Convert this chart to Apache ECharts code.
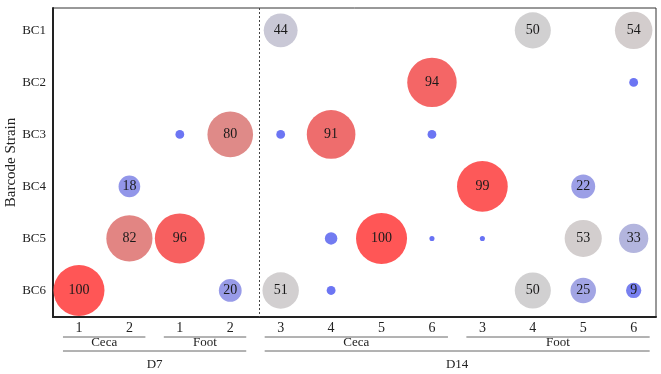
<!DOCTYPE html>
<html>
<head>
<meta charset="utf-8">
<script src="https://cdn.jsdelivr.net/npm/echarts@6/dist/echarts.min.js"></script>
<style>
  html, body { margin: 0; padding: 0; background: #fff; }
  #chart { width: 661px; height: 374px; }
</style>
</head>
<body>
<div id="chart"></div>
<script>
// x 轴：每个样本的编号
var xLabels = ['1', '2', '1', '2', '3', '4', '5', '6', '3', '4', '5', '6']
var strains = ['BC1', 'BC2', 'BC3', 'BC4', 'BC5', 'BC6']

// 每个菌株在12个样本中的占比(%)，null 表示没有
var bc1 = [null, null, null, null, 44, null, null, null, null, 50, null, 54]
var bc2 = [null, null, null, null, null, null, null, 94, null, null, null, 3]
var bc3 = [null, null, 3, 80, 3, 91, null, 3, null, null, null, null]
var bc4 = [null, 18, null, null, null, null, null, null, 99, null, 22, null]
var bc5 = [null, 82, 96, null, null, 6, 100, 1, 1, null, 53, 33]
var bc6 = [100, null, null, 20, 51, 3, null, null, null, 50, 25, 9]
var rows = [bc1, bc2, bc3, bc4, bc5, bc6]

// 下方分组
var tissueGroups = [
    { name: 'Ceca', from: 0, to: 1 },
    { name: 'Foot', from: 2, to: 3 },
    { name: 'Ceca', from: 4, to: 7 },
    { name: 'Foot', from: 8, to: 11 }
]
var dayGroups = [
    { name: 'D7', from: 0, to: 3 },
    { name: 'D14', from: 4, to: 11 }
]
var dayDivider = 3.57

var serif = '"Liberation Serif", "Times New Roman", serif'

function buildData() {
    var list = []
    for (var r = 0; r < rows.length; r++) {
        for (var c = 0; c < rows[r].length; c++) {
            if (rows[r][c] != null) list.push([c, r + 1, rows[r][c]])
        }
    }
    return list
}

var chart = echarts.init(document.getElementById('chart'))

var option = {
    animation: false,
    grid: {
        left: 53, right: 5, top: 8, bottom: 57,
        outerBoundsMode: 'none',
        containLabel: false,
        show: true, borderColor: '#333', borderWidth: 1
    },
    xAxis: {
        type: 'value',
        min: -0.515,
        max: 11.443,
        splitLine: { show: false },
        axisTick: { show: false },
        axisLine: { onZero: false, lineStyle: { color: '#222', width: 2 } },
        axisLabel: {
            customValues: xLabels.map(function (d, i) { return i }),
            formatter: function (v) { return xLabels[v] },
            color: '#222', fontFamily: serif, fontSize: 14, margin: 4
        }
    },
    yAxis: {
        type: 'value',
        inverse: true,
        min: 0.57,
        max: 6.51,
        name: 'Barcode Strain',
        nameLocation: 'middle',
        nameGap: 34,
        nameMoveOverlap: false,
        nameTextStyle: { color: '#222', fontFamily: serif, fontSize: 15 },
        splitLine: { show: false },
        axisTick: { show: false },
        axisLine: { onZero: false, lineStyle: { color: '#222', width: 2 } },
        axisLabel: {
            customValues: [1, 2, 3, 4, 5, 6],
            formatter: function (v) { return strains[v - 1] },
            color: '#222', fontFamily: serif, fontSize: 13, margin: 7
        }
    },
    visualMap: {
        show: false,
        dimension: 2,
        min: 0,
        max: 100,
        inRange: {
            color: ['#6670f5', '#7a82ee', '#989be8', '#acafe0', '#c3c3d9', '#d1d0d1',
                    '#d6c8c8', '#dcaaa8', '#df8a88', '#ec7070', '#ff5656']
        }
    },
    series: [{
        type: 'scatter',
        data: buildData(),
        symbolSize: function (v) { return 5.1 * Math.sqrt(v[2]) },
        itemStyle: { opacity: 1 },
        label: {
            show: true,
            position: 'inside',
            formatter: function (p) { return p.value[2] >= 8 ? p.value[2] : '' },
            color: '#1a1a1a', fontFamily: serif, fontSize: 14
        },
        markLine: {
            silent: true,
            symbol: 'none',
            label: { show: false },
            lineStyle: { color: '#444', type: [2, 2], width: 1 },
            data: [{ xAxis: dayDivider }]
        }
    }]
}

chart.setOption(option)

// 画下方的分组线和文字
function groupGraphics(groups, lineY, textY) {
    var els = []
    groups.forEach(function (g) {
        var x1 = chart.convertToPixel({ xAxisIndex: 0 }, g.from) - 16
        var x2 = chart.convertToPixel({ xAxisIndex: 0 }, g.to) + 16
        els.push({
            type: 'line',
            shape: { x1: x1, y1: lineY, x2: x2, y2: lineY },
            style: { stroke: '#666', lineWidth: 1 }
        })
        els.push({
            type: 'text',
            x: (x1 + x2) / 2, y: textY,
            style: {
                text: g.name, fill: '#222', font: '13px ' + serif,
                align: 'center', verticalAlign: 'middle'
            }
        })
    })
    return els
}

var axisBottom = chart.convertToPixel({ yAxisIndex: 0 }, 6.51)
chart.setOption({
    graphic: groupGraphics(tissueGroups, axisBottom + 20, axisBottom + 26)
        .concat(groupGraphics(dayGroups, axisBottom + 34, axisBottom + 48))
})
</script>
</body>
</html>
